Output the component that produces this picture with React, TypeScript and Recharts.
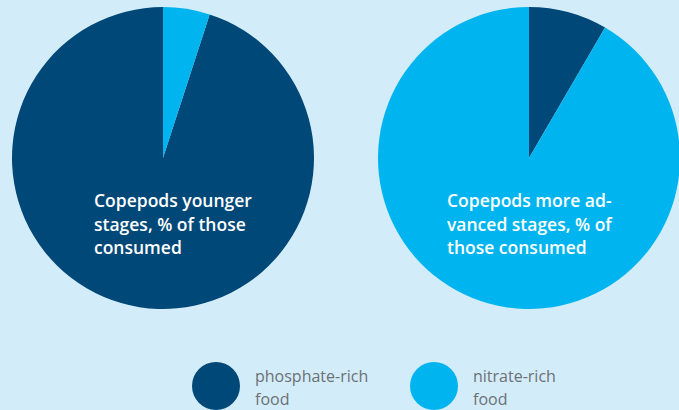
import React from "react";
import { PieChart, Pie, Cell, Legend } from "recharts";

const categories = ["phosphate-rich food", "nitrate-rich food"];
const youngerValues = [95, 5];
const advancedValues = [8.4, 91.6];
const titles = [
  ["Copepods younger", "stages, % of those", "consumed"],
  ["Copepods more ad-", "vanced stages, % of", "those consumed"],
];
const legendLines = [
  ["phosphate-rich", "food"],
  ["nitrate-rich", "food"],
];

const COLORS = ["#004878", "#00b5ef"];
const BG = "#d3ecf9";
const FONT = "'Open Sans', 'Noto Sans', sans-serif";

const youngerData = categories.map((name, i) => ({ name, value: youngerValues[i] }));
const advancedData = categories.map((name, i) => ({ name, value: advancedValues[i] }));

const LegendContent = () => (
  <div style={{ position: "relative", width: 679, height: 60 }}>
    {categories.map((c, i) => {
      const cx = i === 0 ? 216 : 434;
      return (
        <div key={c}>
          <div
            style={{
              position: "absolute",
              left: cx - 24,
              top: 362 - 350,
              width: 48,
              height: 48,
              borderRadius: "50%",
              background: COLORS[i],
            }}
          />
          <div
            style={{
              position: "absolute",
              left: cx + 39,
              top: 365 - 350,
              fontFamily: FONT,
              fontSize: 16,
              lineHeight: "23px",
              color: "#6b7176",
              textAlign: "left",
              whiteSpace: "nowrap",
            }}
          >
            {legendLines[i].map((l, j) => (
              <div key={j}>{l}</div>
            ))}
          </div>
        </div>
      );
    })}
  </div>
);

export default function App() {
  return (
    <div style={{ position: "absolute", left: 0, top: 0, width: 679, height: 410, background: BG, overflow: "hidden" }}>
      <PieChart width={679} height={410} margin={{ top: 0, right: 0, bottom: 0, left: 0 }}>
        <Pie
          data={youngerData}
          dataKey="value"
          nameKey="name"
          cx={163}
          cy={158}
          outerRadius={151}
          startAngle={90}
          endAngle={450}
          stroke="none"
          isAnimationActive={false}
        >
          {youngerData.map((d, i) => (
            <Cell key={d.name} fill={COLORS[i]} />
          ))}
        </Pie>
        <Pie
          data={advancedData}
          dataKey="value"
          nameKey="name"
          cx={529}
          cy={158}
          outerRadius={151}
          startAngle={90}
          endAngle={-270}
          stroke="none"
          isAnimationActive={false}
        >
          {advancedData.map((d, i) => (
            <Cell key={d.name} fill={COLORS[i]} />
          ))}
        </Pie>
        <Legend
          content={LegendContent}
          wrapperStyle={{ position: "absolute", left: 0, top: 350, width: 679, height: 60 }}
        />
      </PieChart>
      <svg
        width={679}
        height={410}
        style={{ position: "absolute", left: 0, top: 0, pointerEvents: "none" }}
      >
        {[94, 447].map((x, k) => (
          <text key={k} x={x} y={207} fill="#ffffff" fontFamily={FONT} fontWeight={600} fontSize={17.5}>
            {titles[k].map((line, j) => (
              <tspan key={j} x={x} dy={j === 0 ? 0 : 23.5}>
                {line}
              </tspan>
            ))}
          </text>
        ))}
      </svg>
    </div>
  );
}
